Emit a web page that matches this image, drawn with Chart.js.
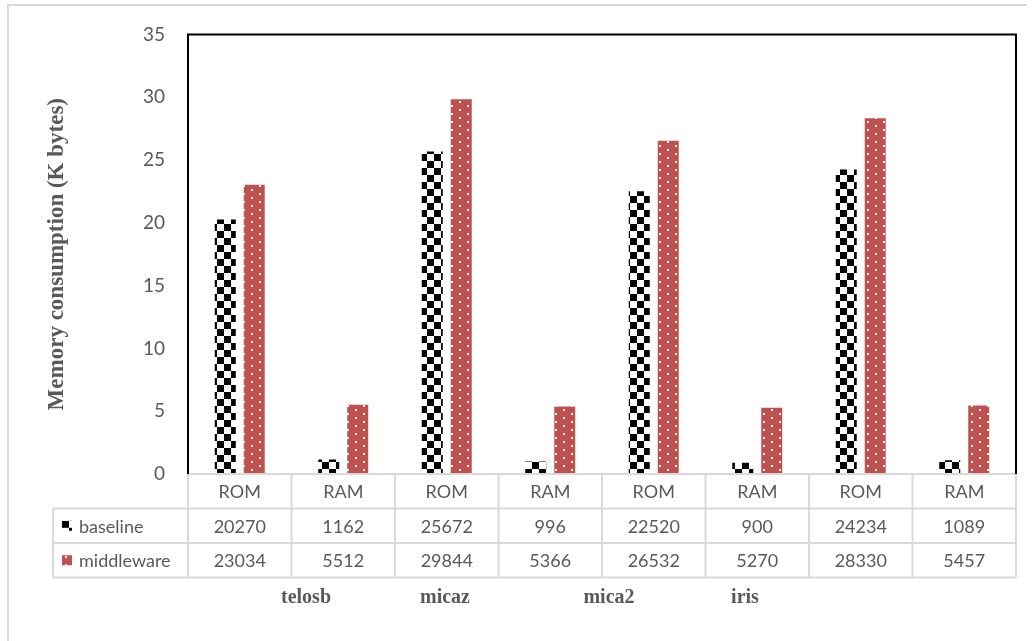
<!DOCTYPE html>
<html>
<head>
<meta charset="utf-8">
<script src="https://cdn.jsdelivr.net/npm/chart.js@4.4.1/dist/chart.umd.min.js"></script>
<style>
  html, body { margin: 0; padding: 0; background: #ffffff; }
  #wrap { position: relative; width: 1036px; height: 641px; }
</style>
</head>
<body>
<div id="wrap"><canvas id="chart"></canvas></div>
<script>
// Memory footprint per platform, in bytes
const platforms = ['telosb', 'micaz', 'mica2', 'iris'];
const categories = ['ROM', 'RAM', 'ROM', 'RAM', 'ROM', 'RAM', 'ROM', 'RAM'];
const baselineBytes = [20270, 1162, 25672, 996, 22520, 900, 24234, 1089];
const middlewareBytes = [23034, 5512, 29844, 5366, 26532, 5270, 28330, 5457];
const seriesNames = ['baseline', 'middleware'];
const yTicks = [0, 5, 10, 15, 20, 25, 30, 35];

const GRAY_TEXT = '#595959';
const TABLE_LINE = '#d9d9d9';
const RED = '#c0504d';
const SANS = 'Lato, "Open Sans", sans-serif';
const SERIF = '"Liberation Serif", "DejaVu Serif", serif';

// Black/white checkerboard fill
function checkerPattern(ctx) {
  const c = document.createElement('canvas');
  c.width = 14; c.height = 14;
  const g = c.getContext('2d');
  g.fillStyle = '#ffffff'; g.fillRect(0, 0, 14, 14);
  g.fillStyle = '#000000';
  g.fillRect(0, 0, 7, 7);
  g.fillRect(7, 7, 7, 7);
  return ctx.createPattern(c, 'repeat');
}

// Red fill with small white dots
function dottedPattern(ctx) {
  const c = document.createElement('canvas');
  c.width = 16; c.height = 8;
  const g = c.getContext('2d');
  g.fillStyle = RED; g.fillRect(0, 0, 16, 8);
  g.fillStyle = '#ffffff';
  g.fillRect(3, 1, 2, 2);
  g.fillRect(11, 5, 2, 2);
  return ctx.createPattern(c, 'repeat');
}

const canvas = document.getElementById('chart');
const ctx0 = canvas.getContext('2d');
const checker = checkerPattern(ctx0);
const dotted = dottedPattern(ctx0);

// Frame, data table under the plot and platform names
const tablePlugin = {
  id: 'dataTable',
  afterDraw(chart) {
    const ctx = chart.ctx;
    const area = chart.chartArea;
    const xs = chart.scales.x;
    const n = categories.length;
    const colW = (area.right - area.left) / n;
    const rowH = 34.5;
    const top = area.bottom;
    const rows = [top, top + rowH, top + 2 * rowH, top + 3 * rowH];
    const legendLeft = 53;

    ctx.save();
    // outer frame
    ctx.strokeStyle = TABLE_LINE;
    ctx.lineWidth = 2;
    ctx.beginPath();
    ctx.moveTo(8, 641); ctx.lineTo(8, 5); ctx.lineTo(1027, 5);
    ctx.stroke();

    // table grid
    ctx.beginPath();
    ctx.moveTo(area.left, rows[0]); ctx.lineTo(area.right, rows[0]);
    for (let r = 1; r < 4; r++) {
      ctx.moveTo(legendLeft, rows[r]); ctx.lineTo(area.right, rows[r]);
    }
    for (let i = 0; i <= n; i++) {
      const x = area.left + i * colW;
      ctx.moveTo(x, rows[0]); ctx.lineTo(x, rows[3]);
    }
    ctx.moveTo(legendLeft, rows[1]); ctx.lineTo(legendLeft, rows[3]);
    ctx.stroke();

    // cell text
    ctx.fillStyle = GRAY_TEXT;
    ctx.font = '18px ' + SANS;
    ctx.textAlign = 'center';
    ctx.textBaseline = 'middle';
    const seriesBytes = [baselineBytes, middlewareBytes];
    for (let i = 0; i < n; i++) {
      const cx = xs.getPixelForValue(i);
      ctx.fillText(categories[i], cx, (rows[0] + rows[1]) / 2 + 1);
      for (let s = 0; s < 2; s++) {
        ctx.fillText(String(seriesBytes[s][i]), cx, (rows[s + 1] + rows[s + 2]) / 2 + 1);
      }
    }

    // series keys in the first column
    ctx.textAlign = 'left';
    const fills = [checker, dotted];
    for (let s = 0; s < 2; s++) {
      const cy = (rows[s + 1] + rows[s + 2]) / 2;
      ctx.fillStyle = fills[s];
      ctx.save();
      ctx.translate(62, cy - 5);
      ctx.fillRect(0, 0, 10, 10);
      ctx.restore();
      ctx.fillStyle = GRAY_TEXT;
      ctx.fillText(seriesNames[s], 79, cy + 1);
    }

    // platform names
    ctx.font = 'bold 20px ' + SERIF;
    ctx.textAlign = 'center';
    const nameX = [306, 445, 609, 745];
    platforms.forEach((p, i) => ctx.fillText(p, nameX[i], 598));

    // plot frame
    ctx.strokeStyle = '#000000';
    ctx.lineWidth = 2;
    ctx.beginPath();
    ctx.moveTo(area.left, area.bottom);
    ctx.lineTo(area.left, area.top);
    ctx.lineTo(area.right, area.top);
    ctx.lineTo(area.right, area.bottom);
    ctx.stroke();
    ctx.restore();
  }
};

new Chart(canvas, {
  type: 'bar',
  data: {
    labels: categories,
    datasets: [
      {
        label: seriesNames[0],
        data: baselineBytes.map(v => v / 1000),
        backgroundColor: checker,
        borderWidth: 0
      },
      {
        label: seriesNames[1],
        data: middlewareBytes.map(v => v / 1000),
        backgroundColor: dotted,
        borderWidth: 0
      }
    ]
  },
  options: {
    responsive: true,
    maintainAspectRatio: false,
    animation: false,
    events: [],
    layout: { padding: { top: 34, right: 20, bottom: 167, left: 0 } },
    datasets: { bar: { categoryPercentage: 0.56, barPercentage: 0.724 } },
    plugins: { legend: { display: false }, tooltip: { enabled: false } },
    scales: {
      x: {
        display: false,
        grid: { display: false }
      },
      y: {
        min: 0,
        max: 35,
        afterBuildTicks(scale) { scale.ticks = yTicks.map(v => ({ value: v })); },
        afterFit(scale) { scale.width = 188; },
        grid: { display: false, drawTicks: false },
        border: { display: false },
        ticks: {
          padding: 23,
          color: GRAY_TEXT,
          font: { family: SANS, size: 19 }
        },
        title: {
          display: true,
          text: 'Memory consumption (K bytes)',
          color: GRAY_TEXT,
          font: { family: SERIF, size: 23, weight: 'bold' },
          padding: { top: 43, bottom: 0 }
        }
      }
    }
  },
  plugins: [tablePlugin]
});
</script>
</body>
</html>
